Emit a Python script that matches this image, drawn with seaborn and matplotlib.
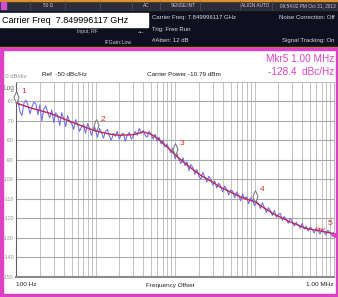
import numpy as np
import pandas as pd
import matplotlib
matplotlib.use("Agg")
import matplotlib.pyplot as plt
from matplotlib.patches import Rectangle
from matplotlib.path import Path
import seaborn as sns

# ---------------- data ----------------
red_freq = [100, 158, 270, 435, 700, 1000, 1500, 2000, 3000, 4000, 5000, 6000, 7000,
            8500, 10000, 15000, 22000, 30000, 37000, 50000, 66000, 100000, 170000,
            280000, 450000, 680000, 1000000]
red_dbc = [-61, -63.7, -66.3, -69.7, -73, -75.3, -76.9, -77.5, -77.2, -75.8, -77, -79, -81.5,
           -84.5, -87.5, -93.5, -98.5, -101.5, -104, -106.5, -109, -111.5, -117.5,
           -121.8, -125.2, -126.5, -127.8]

raw_dbc = [
    -57.5, -60, -65.5, -67.5, -61, -59.5, -62, -66.5, -63, -60.5,
    -61.5, -67, -62, -70, -64, -62.5, -66, -68.5, -64.5, -71,
    -66, -67.5, -72.5, -66, -69, -73, -67.5, -70.5, -71.5, -74.5,
    -69.5, -72, -75.5, -73, -72, -76.5, -71.5, -74, -77.5, -73.5,
    -75, -78.5, -74, -76, -79, -75.5, -74.5, -78, -80, -76.5,
    -78, -75.5, -79.5, -77, -76.5, -80.5, -77.5, -76, -79.5, -78,
    -75.5, -77.5, -74, -76.5, -75, -77.5, -78.5, -75.5, -77, -79.5,
    -77, -80.5, -78.5, -82, -80, -83.5, -82, -84.5, -86.5, -84,
    -89.5, -87, -90, -92, -89, -93, -91, -95.5, -92.5, -94,
    -97.5, -95, -98.5, -100, -96.5, -99, -101.5, -98.5, -100, -103,
    -101, -104.5, -102, -103.5, -106.5, -103.5, -105, -108, -105.5, -106,
    -109.5, -106.5, -108, -111, -107.5, -110, -109, -112.5, -109.5, -110.5,
    -113.5, -111, -112.5, -115, -112, -114.5, -117, -114.5, -116, -118.5,
    -116, -119.5, -118, -117.5, -121, -119, -120.5, -122.5, -120, -121.5,
    -124, -122, -123.5, -125, -122.5, -125.5, -124, -126.5, -124.5, -125.5,
    -127.5, -125, -126.5, -128, -125.5, -127, -128.5, -126, -127.5, -129,
    -127]
raw_freq = np.logspace(2, 6, len(raw_dbc))

marker_freq = [100, 1000, 10000, 100000, 1000000]
marker_dbc = [-61, -75.3, -87.5, -111.5, -128.4]
marker_names = ["1", "2", "3", "4", "5"]

ytick_vals = [-60, -70, -80, -90, -100, -110, -120, -130, -140, -150]

# ---------------- style ----------------
sns.set_style("white")
plt.rcParams['font.family'] = ['Liberation Sans', 'DejaVu Sans']

W, H = 338, 297
fig = plt.figure(figsize=(W / 100, H / 100), dpi=100)
fig.patch.set_facecolor("white")

# background canvas in pixel coordinates
bg = fig.add_axes([0, 0, 1, 1])
bg.set_xlim(0, W)
bg.set_ylim(H, 0)
bg.axis("off")

# header
bg.add_patch(Rectangle((0, 0), W, 48, color="#0e1020", zorder=0))
bg.add_patch(Rectangle((0, 0), W, 10, color="#2b2d3a", zorder=1))
bg.add_patch(Rectangle((0, 0), W, 1.2, color="#e0902a", zorder=2))
for xd in [30, 65, 100, 132, 160, 200, 240, 272]:
    bg.plot([xd, xd], [1, 10], color="#4a4c5a", lw=0.6, zorder=2)
bg.add_patch(Rectangle((1, 2), 5, 7, color="#d050d0", zorder=3))
hdr_small = dict(color="#c8c8d0", fontsize=3.4, va="center", zorder=4)
bg.text(48, 5.5, "50 Ω", ha="center", **hdr_small)
bg.text(146, 5.5, "AC", ha="center", **hdr_small)
bg.text(183, 5.5, "SENSE:INT", ha="center", **hdr_small)
bg.text(255, 5.5, "ALIGN AUTO", ha="center", **hdr_small)
bg.text(336, 5.5, "09:54:02 PM Oct 31, 2013", ha="right", **hdr_small)

bg.add_patch(Rectangle((0, 13), 148, 14, color="white", zorder=3))
bg.text(2, 20.5, "Carrier Freq  7.849996117 GHz", color="black", fontsize=6.5,
        va="center", ha="left", zorder=4)
hdr = dict(color="#d8d8e0", fontsize=4.3, va="center", zorder=4)
bg.text(152, 17.5, "Carrier Freq: 7.849996117 GHz", ha="left", **hdr)
bg.text(152, 29, "Trig: Free Run", ha="left", **hdr)
bg.text(152, 40.5, "#Atten: 12 dB", ha="left", **hdr)
bg.text(335, 17.5, "Noise Correction: Off", ha="right", **hdr)
bg.text(335, 40.5, "Signal Tracking: On", ha="right", **hdr)
bg.text(87, 32, "Input: RF", ha="center", color="#c8c8d0", fontsize=3.6, va="center", zorder=4)
bg.text(118, 42.5, "IFGain:Low", ha="center", color="#c8c8d0", fontsize=3.8, va="center", zorder=4)
bg.text(141, 32.5, "-•-", ha="center", color="#d8d8e0", fontsize=4.5, va="center", zorder=4)
bg.add_patch(Rectangle((0, 46.5), W, 1.2, color="#c07a40", zorder=2))

# magenta panel border
mag = "#e040c8"
bg.add_patch(Rectangle((0, 48), W, 2, color=mag, zorder=2))
bg.add_patch(Rectangle((0, 48), 3, H - 48, color=mag, zorder=2))
bg.add_patch(Rectangle((0, H - 3.5), W, 3.5, color=mag, zorder=2))
bg.add_patch(Rectangle((W - 2, 48), 2, H - 48, color=mag, zorder=2))

# panel texts
bg.text(2.5, 76, "10 dB/div", color="#909090", fontsize=4.2, va="center", ha="left")
bg.text(4, 89, "Log", color="#707070", fontsize=4.8, va="center", ha="left")
bg.text(42, 74, "Ref  -50 dBc/Hz", color="#202020", fontsize=4.6, va="center", ha="left")
bg.text(147, 75, "Carrier Power -10.79 dBm", color="#202020", fontsize=4.6, va="center", ha="left")
bg.text(334, 58.5, "Mkr5 1.00 MHz", color=mag, fontsize=7.2, va="center", ha="right")
bg.text(334, 72, "-128.4  dBc/Hz", color=mag, fontsize=7.2, va="center", ha="right")
bg.text(16, 285, "100 Hz", color="#202020", fontsize=4.6, va="center", ha="left")
bg.text(170, 285, "Frequency Offset", color="#202020", fontsize=4.6, va="center", ha="center")
bg.text(334, 285, "1.00 MHz", color="#202020", fontsize=4.6, va="center", ha="right")

# ---------------- plot axes ----------------
x0, x1, y0, y1 = 16, 334, 81.5, 277
ax = fig.add_axes([x0 / W, (H - y1) / H, (x1 - x0) / W, (y1 - y0) / H])
ax.set_facecolor("white")

sns.lineplot(x=raw_freq, y=raw_dbc, ax=ax, color="#6c6cf4", lw=0.75, zorder=3)
sns.lineplot(x=red_freq, y=red_dbc, ax=ax, color="#c02848", lw=1.0, zorder=4)

ax.set_xscale("log")
ax.set_xlim(100, 1e6)
ax.set_ylim(-150, -50)

# grid
for dec in [100, 1000, 10000, 100000]:
    for k in range(1, 10):
        ax.axvline(dec * k, color="#b8b8b8", lw=0.6, zorder=1)
for yv in ytick_vals:
    ax.axhline(yv, color="#a8a8a8", lw=0.8, zorder=1)

ax.set_xticks([])
ax.set_yticks(ytick_vals)
ax.set_yticklabels([str(v) for v in ytick_vals], fontsize=3.8, color="#909090")
ax.tick_params(axis="y", length=0, pad=1.5)
ax.minorticks_off()
ax.set_xlabel("")
ax.set_ylabel("")
for s in ["top", "right"]:
    ax.spines[s].set_color("#b0b0b0")
    ax.spines[s].set_linewidth(0.6)
ax.spines["left"].set_color("#606060")
ax.spines["left"].set_linewidth(0.8)
ax.spines["bottom"].set_color("#8a8a8a")
ax.spines["bottom"].set_linewidth(1.5)

# markers (tall diamonds with bottom tip on the trace)
diamond = Path([(0, 0), (0.22, 0.5), (0, 1), (-0.22, 0.5), (0, 0)],
               [Path.MOVETO, Path.LINETO, Path.LINETO, Path.LINETO, Path.CLOSEPOLY])
for f, v, name in zip(marker_freq[:4], marker_dbc[:4], marker_names[:4]):
    ax.plot([f], [v], marker=diamond, markersize=17, markerfacecolor="white",
            markeredgecolor="#707070", markeredgewidth=0.7, zorder=6, clip_on=False)
    ax.annotate(name, (f, v), xytext=(3.5, 8.5), textcoords="offset points",
                color="#e02828", fontsize=6, ha="left", va="center", zorder=7)
ax.annotate(marker_names[4], (marker_freq[4], marker_dbc[4]), xytext=(-1.5, 8),
            textcoords="offset points", color="#e02828", fontsize=6,
            ha="right", va="center", zorder=7, annotation_clip=False)
ax.annotate("Spot", (marker_freq[4], marker_dbc[4]), xytext=(-6, 4),
            textcoords="offset points", color="#e02828", fontsize=3.2,
            ha="right", va="center", zorder=7, annotation_clip=False)
ax.plot([marker_freq[4]], [marker_dbc[4]], marker="<", markersize=3.5, color=mag,
        zorder=7, clip_on=False)

fig.savefig("out.png", dpi=100)
